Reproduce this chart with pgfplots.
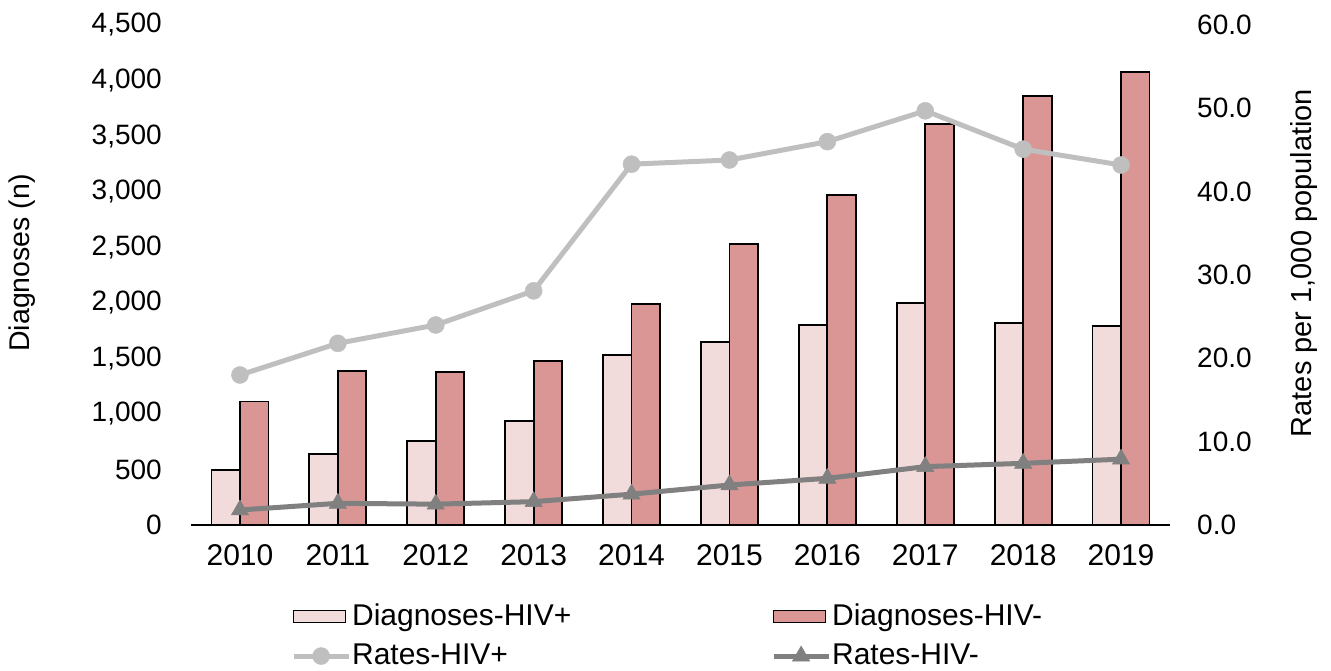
\documentclass[border=0pt]{standalone}
\usepackage{fontspec}
\setmainfont{Liberation Sans}
\usepackage{pgfplots}
\pgfplotsset{compat=1.18}
\usepackage{pgfplotstable}
\definecolor{lightbar}{RGB}{242,220,219}
\definecolor{darkbar}{RGB}{217,150,148}
\definecolor{lgray}{RGB}{191,191,191}
\definecolor{dgray}{RGB}{128,128,128}

\pgfplotstableread{
x year pos neg rpos rneg
0 2010 498 1112 18.0 1.8
1 2011 640 1388 21.8 2.6
2 2012 755 1378 24.0 2.5
3 2013 935 1476 28.1 2.8
4 2014 1530 1990 43.3 3.7
5 2015 1648 2530 43.8 4.8
6 2016 1800 2970 46.0 5.6
7 2017 1998 3610 49.7 7.0
8 2018 1820 3860 45.1 7.4
9 2019 1792 4078 43.2 7.9
}\data

\pgfplotsset{
  boxlegend/.style={legend image code/.code={\draw[##1] (0pt,-6pt) rectangle (52pt,6pt);}},
  linelegend/.style={legend image code/.code={\draw[mark repeat=2,mark phase=2,##1] plot coordinates {(0pt,0pt) (27.5pt,0pt) (55pt,0pt)};}},
}

\begin{document}
\fontsize{28}{33.6}\selectfont
\begin{tikzpicture}
\path[use as bounding box] (-191pt,-146pt) rectangle (1140pt,525pt);
\begin{axis}[
  at={(0pt,0pt)}, anchor=south west,
  scale only axis, width=979pt, height=500pt,
  xmin=-0.5, xmax=9.5, ymin=0, ymax=4500,
  ybar=0pt, bar width=28.5pt,
  xtick={0,...,9},
  xticklabels={2010,2011,2012,2013,2014,2015,2016,2017,2018,2019},
  ytick={0,500,...,4500},
  scaled y ticks=false,
  /pgf/number format/assume math mode=true,
  /pgf/number format/1000 sep={,},
  axis x line*=bottom, axis y line*=left,
  y axis line style={draw=none},
  x axis line style={black, line width=1.5pt},
  major tick length=0pt,
  xticklabel style={inner sep=0pt, yshift=-19pt, font=\fontsize{30}{36}\selectfont},
  yticklabel style={inner sep=0pt, xshift=-29pt},
  ylabel={Diagnoses (n)},
  ylabel style={at={(axis description cs:-0.172,0.524)}, anchor=center, font=\fontsize{28.5}{34}\selectfont},
]
\addplot[draw=black, line width=1.8pt, fill=lightbar] table[x=x, y=pos] {\data};
\addplot[draw=black, line width=1.8pt, fill=darkbar] table[x=x, y=neg] {\data};
\end{axis}
\begin{axis}[
  at={(0pt,0pt)}, anchor=south west,
  scale only axis, width=979pt, height=500pt,
  xmin=-0.5, xmax=9.5, ymin=0, ymax=60,
  ytick={0,10,...,60},
  xtick=\empty,
  clip=false,
  axis x line=none, axis y line*=right,
  y axis line style={draw=none},
  major tick length=0pt,
  /pgf/number format/assume math mode=true,
  yticklabel style={inner sep=0pt, xshift=27pt, /pgf/number format/.cd, fixed, fixed zerofill, precision=1},
  ylabel={Rates per 1,000 population},
  ylabel style={at={(axis description cs:1.137,0.524)}, anchor=center, font=\fontsize{29}{35}\selectfont},
  legend columns=2,
  legend cell align=left,
  legend style={draw=none, fill=none, at={(axis description cs:0.099,-0.153)}, anchor=north west,
    font=\fontsize{30}{36}\selectfont,
    nodes={inner sep=0pt, text width=411pt}, column sep=1pt, row sep=14pt,
    /tikz/every even column/.append style={column sep=8pt}},
]
\addlegendimage{boxlegend, fill=lightbar, draw=black, line width=1.5pt}
\addlegendentry{Diagnoses-HIV+}
\addlegendimage{boxlegend, fill=darkbar, draw=black, line width=1.5pt}
\addlegendentry{Diagnoses-HIV-}
\addplot[lgray, line width=5pt, mark=*, mark size=8.5pt, mark options={line width=0.5pt, fill=lgray, draw=lgray}, linelegend] table[x=x, y=rpos] {\data};
\addlegendentry{Rates-HIV+}
\addplot[dgray, line width=5pt, mark=triangle*, mark size=10pt, mark options={line width=0.5pt, fill=dgray, draw=dgray}, linelegend] table[x=x, y=rneg] {\data};
\addlegendentry{Rates-HIV-}
\end{axis}
\end{tikzpicture}
\end{document}
